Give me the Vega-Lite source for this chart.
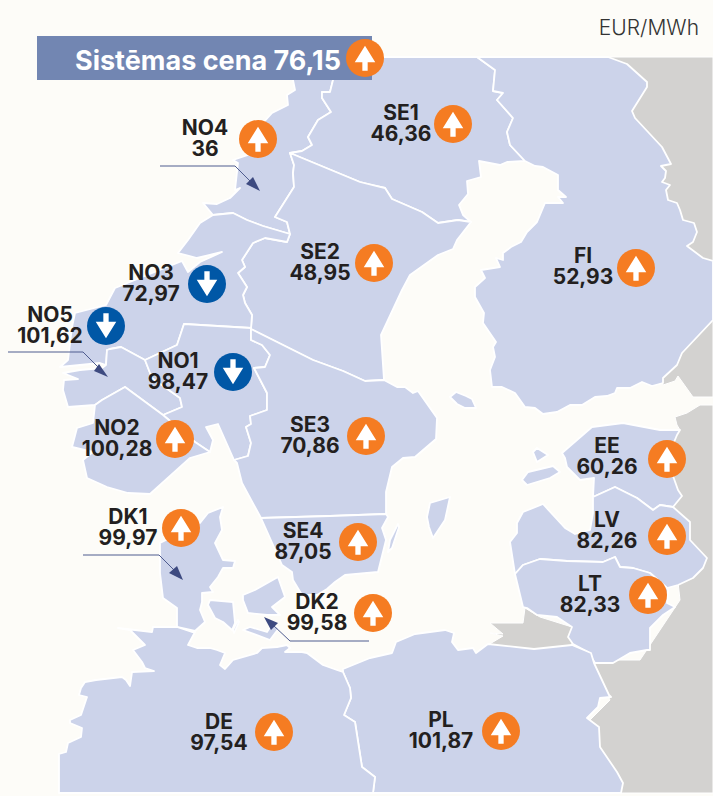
{
"$schema":"https://vega.github.io/schema/vega-lite/v6.json",
"width":713,"height":796,"padding":0,"autosize":{"type":"none"},
"background":"#fdfcf8",
"config":{"view":{"stroke":null}},
"projection":{"type":"identity","scale":1,"translate":[0,0]},
"datasets":{
"grey":[
{"type":"Feature","properties":{"name":"Krievija ziemeļi"},"geometry":{"type":"Polygon","coordinates":[[[600,57],[713,57],[713,397],[693,397],[683,383],[678,376],[675,381],[663,385],[650,340],[600,57]]]}},
{"type":"Feature","properties":{"name":"Krievija dienvidi"},"geometry":{"type":"Polygon","coordinates":[[[713,405],[700,405],[687,413],[675,417],[677,425],[680,430],[665,445],[670,510],[680,600],[640,660],[590,660],[610,700],[590,720],[600,747],[615,793],[713,793],[713,405]]]}},
{"type":"Feature","properties":{"name":"Kaļiņingrada"},"geometry":{"type":"Polygon","coordinates":[[[490,623],[523,623],[525,608],[540,617],[572,627],[572,647],[534,650],[488,645],[503,636],[490,633],[503,634],[490,623]]]}}
],
"regions":[
{"type":"Feature","properties":{"name":"NO4"},"geometry":{"type":"Polygon","coordinates":[[[293,80],[300,57],[345,57],[333,80],[330,92],[322,92],[322,98],[331,112],[318,120],[308,137],[312,145],[302,151],[290,153],[294,165],[293,173],[294,187],[275,217],[287,222],[290,234],[263,226],[247,220],[233,213],[213,215],[203,203],[217,204],[230,198],[240,188],[235,190],[238,163],[233,160],[248,155],[263,123],[272,113],[288,105],[287,95],[295,90],[293,80]]]}},
{"type":"Feature","properties":{"name":"SE1"},"geometry":{"type":"Polygon","coordinates":[[[345,57],[477,57],[495,70],[493,91],[503,93],[497,100],[513,118],[507,132],[510,145],[525,161],[507,162],[500,165],[479,161],[481,177],[467,181],[468,194],[459,205],[463,215],[471,222],[458,220],[438,223],[422,212],[392,199],[385,188],[372,185],[360,182],[290,153],[302,151],[312,145],[308,137],[318,120],[331,112],[322,98],[322,92],[330,92],[333,80],[345,57]]]}},
{"type":"Feature","properties":{"name":"FI"},"geometry":{"type":"MultiPolygon","coordinates":[[[[477,57],[608,57],[627,64],[647,82],[647,87],[632,111],[635,118],[662,147],[671,164],[661,166],[666,171],[665,178],[662,182],[670,185],[666,190],[668,200],[677,203],[680,210],[683,220],[694,223],[697,232],[693,242],[687,246],[703,258],[713,261],[713,320],[682,353],[677,365],[663,378],[663,383],[652,386],[642,382],[630,388],[617,388],[615,393],[607,396],[595,397],[582,405],[570,405],[557,412],[543,414],[535,408],[525,407],[515,393],[502,387],[492,387],[490,370],[495,357],[493,347],[496,342],[483,323],[484,313],[475,297],[475,287],[485,278],[481,270],[500,267],[496,258],[503,260],[503,253],[511,247],[521,242],[527,232],[537,222],[545,203],[563,203],[558,197],[566,197],[558,190],[558,175],[543,167],[535,166],[525,161],[510,145],[507,132],[513,118],[497,100],[503,93],[493,91],[495,70],[477,57]]],[[[450,397],[456,392],[466,396],[472,399],[476,408],[465,408],[457,404],[450,397]]]]}},
{"type":"Feature","properties":{"name":"SE2"},"geometry":{"type":"Polygon","coordinates":[[[290,153],[360,182],[372,185],[385,188],[392,199],[422,212],[438,223],[458,220],[471,222],[457,240],[453,249],[438,255],[410,275],[402,290],[381,335],[384,380],[365,381],[343,371],[313,360],[251,329],[252,315],[245,303],[243,295],[247,287],[238,273],[245,267],[242,260],[253,243],[265,238],[287,242],[290,234],[287,222],[275,217],[294,187],[293,173],[294,165],[290,153]]]}},
{"type":"Feature","properties":{"name":"NO3"},"geometry":{"type":"Polygon","coordinates":[[[213,215],[233,213],[247,220],[263,226],[290,234],[287,242],[265,238],[253,243],[242,260],[245,267],[238,273],[247,287],[243,295],[245,303],[252,315],[251,328],[184,324],[177,345],[145,360],[121,347],[110,349],[107,350],[106,365],[100,363],[80,365],[60,367],[68,360],[72,327],[75,313],[106,305],[115,288],[182,261],[188,272],[200,262],[222,252],[197,258],[178,253],[188,240],[200,223],[213,215]]]}},
{"type":"Feature","properties":{"name":"NO5"},"geometry":{"type":"Polygon","coordinates":[[[106,365],[107,350],[110,349],[121,347],[145,360],[152,378],[180,398],[182,407],[163,415],[125,387],[102,400],[95,405],[68,407],[63,390],[64,380],[78,379],[63,373],[80,370],[102,368],[106,365]]]}},
{"type":"Feature","properties":{"name":"NO1"},"geometry":{"type":"Polygon","coordinates":[[[145,360],[177,345],[184,324],[251,328],[251,340],[262,345],[270,355],[265,367],[254,368],[267,393],[267,410],[250,416],[251,424],[246,427],[251,443],[248,456],[234,460],[218,424],[206,427],[213,440],[210,452],[195,442],[163,415],[182,407],[180,398],[152,378],[145,360]]]}},
{"type":"Feature","properties":{"name":"NO2"},"geometry":{"type":"Polygon","coordinates":[[[102,400],[125,387],[163,415],[195,442],[210,452],[190,458],[150,494],[128,493],[107,487],[87,478],[83,460],[93,452],[72,447],[77,428],[93,423],[95,405],[102,400]]]}},
{"type":"Feature","properties":{"name":"SE3"},"geometry":{"type":"MultiPolygon","coordinates":[[[[251,329],[313,360],[343,371],[365,381],[384,380],[397,387],[405,387],[413,393],[418,391],[437,418],[436,439],[415,457],[403,458],[392,467],[386,492],[386,514],[330,516],[261,518],[242,483],[237,463],[234,460],[248,456],[251,443],[246,427],[251,424],[250,416],[267,410],[267,393],[254,368],[265,367],[270,355],[262,345],[251,340],[251,329]]],[[[450,497],[430,503],[427,517],[429,527],[433,538],[445,520],[450,497]]]]}},
{"type":"Feature","properties":{"name":"SE4"},"geometry":{"type":"MultiPolygon","coordinates":[[[[261,518],[330,516],[386,514],[388,517],[382,528],[386,540],[378,572],[345,575],[335,582],[327,589],[317,595],[302,595],[293,580],[292,572],[282,565],[261,518]]],[[[398,524],[399,527],[392,548],[388,552],[390,540],[398,524]]]]}},
{"type":"Feature","properties":{"name":"DK1"},"geometry":{"type":"MultiPolygon","coordinates":[[[[223,507],[220,517],[222,530],[215,543],[223,560],[235,561],[233,568],[223,568],[218,577],[210,587],[213,592],[202,593],[202,602],[200,610],[205,622],[195,631],[177,627],[177,608],[163,598],[160,573],[160,543],[200,523],[208,513],[223,507]]],[[[210,600],[233,602],[235,623],[232,630],[223,622],[215,618],[208,605],[210,600]]]]}},
{"type":"Feature","properties":{"name":"DK2"},"geometry":{"type":"MultiPolygon","coordinates":[[[[243,595],[255,590],[278,577],[285,597],[272,607],[280,615],[267,615],[248,613],[243,600],[243,595]]],[[[243,630],[250,627],[267,632],[272,624],[279,628],[270,640],[243,630]]],[[[233,630],[238,620],[239,622],[234,633],[233,630]]]]}},
{"type":"Feature","properties":{"name":"EE"},"geometry":{"type":"MultiPolygon","coordinates":[[[[562,453],[592,427],[623,423],[660,430],[680,430],[677,435],[667,459],[678,490],[682,496],[673,507],[660,505],[653,510],[637,498],[615,487],[593,497],[594,478],[580,480],[567,467],[565,458],[562,453]]],[[[522,480],[528,472],[553,466],[560,472],[550,478],[527,485],[522,480]]],[[[533,452],[537,448],[548,455],[537,462],[533,452]]]]}},
{"type":"Feature","properties":{"name":"LV"},"geometry":{"type":"Polygon","coordinates":[[[593,497],[615,487],[637,498],[653,510],[660,505],[673,507],[690,522],[690,540],[707,558],[703,568],[693,578],[678,585],[667,588],[650,573],[633,568],[620,567],[615,557],[603,562],[567,561],[540,559],[523,565],[515,574],[510,542],[517,533],[517,523],[523,512],[543,504],[565,528],[575,534],[590,530],[593,513],[593,497]]]}},
{"type":"Feature","properties":{"name":"LT"},"geometry":{"type":"Polygon","coordinates":[[[515,574],[523,565],[540,559],[567,561],[603,562],[615,557],[620,567],[633,568],[650,573],[667,588],[668,590],[667,603],[675,607],[663,615],[650,628],[650,650],[647,650],[630,653],[613,663],[595,663],[588,652],[573,644],[568,637],[572,627],[557,617],[537,615],[527,608],[523,607],[515,574]]]}},
{"type":"Feature","properties":{"name":"PL"},"geometry":{"type":"Polygon","coordinates":[[[343,669],[370,658],[392,653],[396,642],[415,634],[445,630],[454,633],[452,642],[458,650],[473,648],[476,653],[488,644],[534,649],[572,645],[591,653],[594,663],[609,695],[611,697],[600,698],[598,707],[587,718],[599,727],[600,747],[617,772],[623,783],[621,793],[373,793],[375,777],[362,767],[355,722],[344,715],[351,698],[350,688],[343,672],[343,669]]]}},
{"type":"Feature","properties":{"name":"DE"},"geometry":{"type":"Polygon","coordinates":[[[59,793],[59,754],[66,752],[68,743],[81,737],[82,728],[70,723],[70,720],[81,715],[87,697],[79,695],[81,688],[85,682],[96,680],[122,677],[126,680],[130,686],[132,672],[154,671],[145,668],[142,662],[133,650],[145,645],[130,630],[118,628],[152,632],[153,627],[177,627],[192,632],[195,632],[188,645],[197,648],[210,648],[217,650],[225,653],[220,665],[225,669],[233,660],[257,653],[262,648],[277,647],[287,645],[290,648],[285,652],[302,652],[307,653],[323,665],[337,670],[343,672],[350,688],[351,698],[344,715],[355,722],[362,767],[375,777],[373,793],[59,793]]]}}
],
"bar":[{"type":"Feature","properties":{"name":"Sistēmas cena"},"geometry":{"type":"Polygon","coordinates":[[[37,36],[372,36],[372,80],[37,80],[37,36]]]}}],
"leaders":[
{"type":"Feature","properties":{"name":"NO4"},"geometry":{"type":"LineString","coordinates":[[160,166],[235,166],[252,183]]}},
{"type":"Feature","properties":{"name":"NO5"},"geometry":{"type":"LineString","coordinates":[[8,352],[83,352],[100,369]]}},
{"type":"Feature","properties":{"name":"DK1"},"geometry":{"type":"LineString","coordinates":[[83,555],[159,555],[175,571]]}},
{"type":"Feature","properties":{"name":"DK2"},"geometry":{"type":"LineString","coordinates":[[369,641],[290,641],[273,625]]}}
],
"heads":[
{"type":"Feature","properties":{"name":"NO4"},"geometry":{"type":"Polygon","coordinates":[[[260,191],[253,177],[246,184],[260,191]]]}},
{"type":"Feature","properties":{"name":"NO5"},"geometry":{"type":"Polygon","coordinates":[[[108,377],[99,364],[94,371],[108,377]]]}},
{"type":"Feature","properties":{"name":"DK1"},"geometry":{"type":"Polygon","coordinates":[[[183,580],[177,566],[169,573],[183,580]]]}},
{"type":"Feature","properties":{"name":"DK2"},"geometry":{"type":"Polygon","coordinates":[[[264,617],[278,623],[271,630],[264,617]]]}}
],
"prices":[
{"area":"NO4","price":"36","dir":"up","labelLon":205,"labelLat":139,"lon":258,"lat":139},
{"area":"SE1","price":"46,36","dir":"up","labelLon":401,"labelLat":124,"lon":453,"lat":124},
{"area":"SE2","price":"48,95","dir":"up","labelLon":320,"labelLat":263,"lon":374,"lat":263},
{"area":"FI","price":"52,93","dir":"up","labelLon":583,"labelLat":267,"lon":636,"lat":268},
{"area":"NO3","price":"72,97","dir":"down","labelLon":151,"labelLat":284,"lon":207,"lat":284},
{"area":"NO5","price":"101,62","dir":"down","labelLon":50,"labelLat":326,"lon":106,"lat":326},
{"area":"NO1","price":"98,47","dir":"down","labelLon":178,"labelLat":372,"lon":233,"lat":372},
{"area":"NO2","price":"100,28","dir":"up","labelLon":117,"labelLat":439,"lon":175,"lat":439},
{"area":"SE3","price":"70,86","dir":"up","labelLon":310,"labelLat":436,"lon":366,"lat":436},
{"area":"SE4","price":"87,05","dir":"up","labelLon":303,"labelLat":542,"lon":358,"lat":542},
{"area":"DK1","price":"99,97","dir":"up","labelLon":128,"labelLat":528,"lon":181,"lat":528},
{"area":"DK2","price":"99,58","dir":"up","labelLon":317,"labelLat":613,"lon":373,"lat":613},
{"area":"DE","price":"97,54","dir":"up","labelLon":219,"labelLat":733,"lon":274,"lat":732},
{"area":"PL","price":"101,87","dir":"up","labelLon":441,"labelLat":731,"lon":501,"lat":731},
{"area":"EE","price":"60,26","dir":"up","labelLon":607,"labelLat":457,"lon":667,"lat":459},
{"area":"LV","price":"82,26","dir":"up","labelLon":607,"labelLat":531,"lon":667,"lat":536},
{"area":"LT","price":"82,33","dir":"up","labelLon":590,"labelLat":595,"lon":648,"lat":595},
{"area":"Sistēmas cena","price":"76,15","dir":"up","labelLon":208,"labelLat":62,"lon":365,"lat":58}
]
},
"layer":[
{"data":{"name":"grey"},"mark":{"type":"geoshape","fill":"#d3d2d0","stroke":"#ffffff","strokeWidth":1}},
{"data":{"name":"regions"},"mark":{"type":"geoshape","fill":"#ccd3ea","stroke":"#ffffff","strokeWidth":1.8,"strokeJoin":"round"}},
{"data":{"name":"bar"},"mark":{"type":"geoshape","fill":"#7286b2","stroke":null}},
{"data":{"name":"leaders"},"mark":{"type":"geoshape","filled":false,"stroke":"#4f5c8f","strokeWidth":1}},
{"data":{"name":"heads"},"mark":{"type":"geoshape","fill":"#3d4a80","stroke":null}},
{"data":{"name":"prices"},"mark":{"type":"point","filled":true,"size":1444,"opacity":1,"stroke":null},
 "encoding":{"longitude":{"field":"lon","type":"quantitative"},"latitude":{"field":"lat","type":"quantitative"},
 "color":{"field":"dir","type":"nominal","scale":{"domain":["up","down"],"range":["#f57c22","#0057a6"]},"legend":null}}},
{"data":{"name":"prices"},"mark":{"type":"point","filled":true,"size":1444,"opacity":1,"color":"#ffffff","stroke":null},
 "encoding":{"longitude":{"field":"lon","type":"quantitative"},"latitude":{"field":"lat","type":"quantitative"},
 "shape":{"field":"dir","type":"nominal","scale":{"domain":["up","down"],"range":["M0,-0.65L0.54,0.23L0.14,0.23L0.14,0.67L-0.14,0.67L-0.14,0.23L-0.54,0.23Z","M0,0.65L0.54,-0.23L0.14,-0.23L0.14,-0.67L-0.14,-0.67L-0.14,-0.23L-0.54,-0.23Z"]},"legend":null}}},
{"data":{"name":"prices"},"transform":[{"filter":"datum.area != 'Sistēmas cena'"},{"calculate":"datum.area + '|' + datum.price","as":"label"}],"mark":{"type":"text","font":"Inter","fontWeight":700,"fontSize":21,"lineHeight":21,"lineBreak":"|","color":"#231f20","align":"center","baseline":"middle","dy":-10},
 "encoding":{"longitude":{"field":"labelLon","type":"quantitative"},"latitude":{"field":"labelLat","type":"quantitative"},"text":{"field":"label"}}},
{"data":{"name":"prices"},"transform":[{"filter":"datum.area == 'Sistēmas cena'"},{"calculate":"datum.area + ' ' + datum.price","as":"caption"}],"mark":{"type":"text","font":"Inter","fontWeight":700,"fontSize":27,"color":"#ffffff","align":"center","baseline":"middle"},
 "encoding":{"longitude":{"field":"labelLon","type":"quantitative"},"latitude":{"field":"labelLat","type":"quantitative"},"text":{"field":"caption"}}},
{"data":{"values":[{"unit":"EUR/MWh","lon":699,"lat":29}]},"mark":{"type":"text","font":"Inter","fontWeight":300,"fontSize":21,"color":"#333333","align":"right","baseline":"middle"},
 "encoding":{"longitude":{"field":"lon","type":"quantitative"},"latitude":{"field":"lat","type":"quantitative"},"text":{"field":"unit"}}}
]
}
